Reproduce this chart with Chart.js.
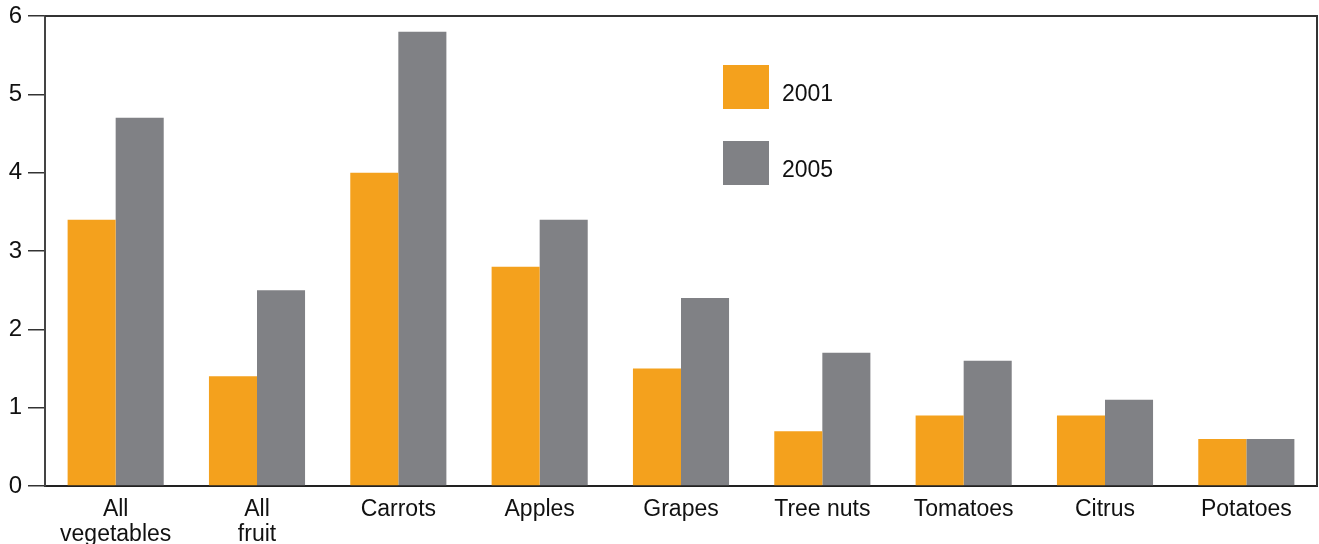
<!DOCTYPE html>
<html>
<head>
<meta charset="utf-8">
<script src="https://cdn.jsdelivr.net/npm/chart.js@4"></script>
<style>
html,body{margin:0;padding:0;background:#fff;}
#wrap{width:1319px;height:544px;position:relative;}
</style>
</head>
<body>
<div id="wrap"><canvas id="c" width="1319" height="544"></canvas></div>
<script>
const categories = [["All","vegetables"],["All","fruit"],"Carrots","Apples","Grapes","Tree nuts","Tomatoes","Citrus","Potatoes"];
const seriesNames = ["2001","2005"];
const values2001 = [3.4,1.4,4.0,2.8,1.5,0.7,0.9,0.9,0.6];
const values2005 = [4.7,2.5,5.8,3.4,2.4,1.7,1.6,1.1,0.6];
const yTicks = [0,1,2,3,4,5,6];
const colors = ["#F4A11D","#808185"];

const FONT = "'Liberation Sans', Arial, Helvetica, sans-serif";

const framePlugin = {
  id: 'frame',
  afterDatasetsDraw(chart){
    const {ctx, chartArea:a} = chart;
    ctx.save();
    ctx.strokeStyle = '#333';
    ctx.lineWidth = 2;
    ctx.beginPath();
    ctx.moveTo(a.left, a.top);
    ctx.lineTo(a.right, a.top);
    ctx.lineTo(a.right, a.bottom);
    ctx.stroke();
    ctx.restore();
  }
};

const legendPlugin = {
  id: 'customLegend',
  afterDraw(chart){
    const ctx = chart.ctx;
    ctx.save();
    const x = 723, w = 46, h = 44;
    const ys = [65, 141];
    chart.data.datasets.forEach((ds,i)=>{
      ctx.fillStyle = ds.backgroundColor;
      ctx.fillRect(x, ys[i], w, h);
      ctx.fillStyle = '#111';
      ctx.font = '23px ' + FONT;
      ctx.textBaseline = 'middle';
      ctx.textAlign = 'left';
      ctx.fillText(ds.label, x + 59, ys[i] + h/2 + 8);
    });
    ctx.restore();
  }
};

new Chart(document.getElementById('c'), {
  type: 'bar',
  data: {
    labels: categories,
    datasets: [
      {label: seriesNames[0], data: values2001, backgroundColor: colors[0]},
      {label: seriesNames[1], data: values2005, backgroundColor: colors[1]}
    ]
  },
  options: {
    responsive: false,
    animation: false,
    devicePixelRatio: 1,
    layout: {padding: {top: 0, right: 2, left: 0, bottom: 0}},
    datasets: {bar: {categoryPercentage: 0.68, barPercentage: 1.0, borderWidth: 0}},
    plugins: {legend: {display: false}, tooltip: {enabled: false}},
    scales: {
      x: {
        grid: {display: false},
        border: {display: true, color: '#222', width: 2},
        ticks: {color: '#111', font: {family: FONT, size: 23, lineHeight: 1.05}, padding: 4, maxRotation: 0, autoSkip: false},
        afterFit(s){ s.height = 58; }
      },
      y: {
        min: 0, max: 6,
        afterBuildTicks(s){ s.ticks = yTicks.map(v=>({value:v})); },
        grid: {drawOnChartArea: false, drawTicks: true, tickLength: 17, color: '#333', lineWidth: 1.5},
        border: {display: true, color: '#444', width: 2},
        ticks: {color: '#111', font: {family: FONT, size: 24}, padding: 6},
        afterFit(s){ s.width = 45; s.paddingTop = 16; s.paddingBottom = 10; }
      }
    }
  },
  plugins: [framePlugin, legendPlugin]
});
</script>
</body>
</html>
